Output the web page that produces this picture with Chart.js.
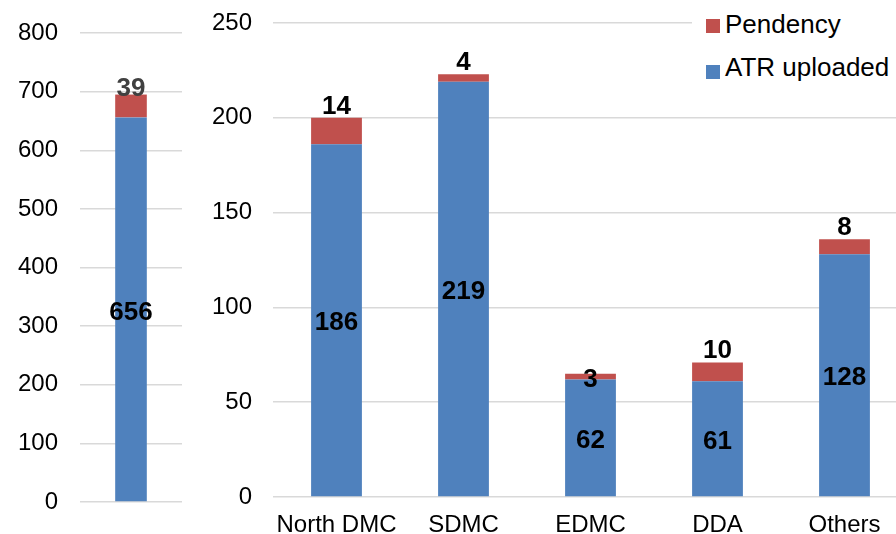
<!DOCTYPE html>
<html>
<head>
<meta charset="utf-8">
<script src="https://cdn.jsdelivr.net/npm/chart.js@4"></script>
<style>
  html, body { margin: 0; padding: 0; background: #fff; }
  body { width: 896px; height: 534px; position: relative; overflow: hidden; font-family: "Liberation Sans", Arial, sans-serif; }
  #totalChart { position: absolute; left: 0; top: 0; }
  #agencyChart { position: absolute; left: 200px; top: 0; }
  #legend { position: absolute; left: 692px; top: 0; width: 204px; height: 90px; background: #fff; }
  #legend i { position: absolute; left: 14px; width: 14px; height: 14px; }
  #legend span { position: absolute; left: 33px; height: 30px; line-height: 30px; font-size: 26px; color: #000; white-space: nowrap; }
</style>
</head>
<body>
<canvas id="totalChart" width="200" height="534"></canvas>
<canvas id="agencyChart" width="710" height="534"></canvas>
<div id="legend">
  <i style="top:19px;background:#C0504D"></i><span style="top:9px">Pendency</span>
  <i style="top:65px;background:#4F81BD"></i><span style="top:52px">ATR uploaded</span>
</div>
<script>
// data
const agencies = ['North DMC', 'SDMC', 'EDMC', 'DDA', 'Others'];
const atrUploaded = [186, 219, 62, 61, 128];
const pendency = [14, 4, 3, 10, 8];

const totalLabel = ['Total'];
const totalAtr = [656];
const totalPendency = [39];

const totalTicks = [0, 100, 200, 300, 400, 500, 600, 700, 800];
const agencyTicks = [0, 50, 100, 150, 200, 250];

const BLUE = '#4F81BD';
const RED = '#C0504D';
const GRID = '#D9D9D9';
const FONT = '"Liberation Sans", Arial, sans-serif';

// bold value labels: middle of blue segment, on top of the red one
const valueLabels = {
    id: 'valueLabels',
    afterDatasetsDraw(chart, args, opts) {
        const ctx = chart.ctx;
        ctx.save();
        ctx.font = 'bold 26px ' + FONT;
        ctx.textAlign = 'center';
        chart.data.datasets.forEach((ds, di) => {
            const meta = chart.getDatasetMeta(di);
            meta.data.forEach((bar, i) => {
                const v = ds.data[i];
                if (ds.labelAt === 'middle') {
                    ctx.fillStyle = '#000';
                    ctx.textBaseline = 'middle';
                    ctx.fillText(v, bar.x, (bar.y + bar.base) / 2 + 3);
                } else {
                    const shift = (opts.shift && opts.shift[i]) || 0;
                    ctx.fillStyle = opts.topColor || '#000';
                    ctx.textBaseline = 'alphabetic';
                    ctx.fillText(v, bar.x, bar.y - 4 + shift);
                }
            });
        });
        ctx.restore();
    }
};

function makeChart(id, labels, atr, pend, ticks, opt) {
    new Chart(document.getElementById(id), {
        type: 'bar',
        data: {
            labels: labels,
            datasets: [
                { label: 'ATR uploaded', data: atr, backgroundColor: BLUE, labelAt: 'middle',
                  categoryPercentage: 1, barPercentage: opt.barPct },
                { label: 'Pendency', data: pend, backgroundColor: RED, labelAt: 'top',
                  categoryPercentage: 1, barPercentage: opt.barPct }
            ]
        },
        options: {
            responsive: false,
            animation: false,
            layout: { padding: opt.padding },
            plugins: {
                legend: { display: false },
                tooltip: { enabled: false },
                valueLabels: { topColor: opt.topColor, shift: opt.shift }
            },
            scales: {
                x: {
                    stacked: true,
                    display: opt.showX,
                    grid: { display: false, drawTicks: false },
                    border: { display: false },
                    ticks: { color: '#000', padding: 14, maxRotation: 0, font: { family: FONT, size: 24 } },
                    afterFit: (s) => { s.height = opt.xHeight; }
                },
                y: {
                    stacked: true,
                    min: 0,
                    max: ticks[ticks.length - 1],
                    afterBuildTicks: (s) => { s.ticks = ticks.map(v => ({ value: v })); },
                    grid: { color: GRID, lineWidth: 1.5, drawTicks: false },
                    border: { display: false },
                    ticks: { color: '#000', padding: opt.yPad, font: { family: FONT, size: 24 } },
                    afterFit: (s) => {
                        s.width = opt.yWidth;
                        // keep the plot edges where layout.padding puts them
                        s.paddingTop = 0;
                        s.paddingBottom = 0;
                    }
                }
            }
        },
        plugins: [valueLabels]
    });
}

makeChart('totalChart', totalLabel, totalAtr, totalPendency, totalTicks, {
    barPct: 0.31,
    padding: { top: 33, bottom: 32, right: 18, left: 0 },
    showX: false,
    xHeight: 0,
    yWidth: 80,
    yPad: 22,
    topColor: '#404040',
    shift: { 0: 5 }
});

makeChart('agencyChart', agencies, atrUploaded, pendency, agencyTicks, {
    barPct: 0.40,
    padding: { top: 23, bottom: 0, right: 2, left: 0 },
    showX: true,
    xHeight: 37,
    yWidth: 73,
    yPad: 21,
    topColor: '#000',
    shift: { 2: 17 }
});
</script>
</body>
</html>
